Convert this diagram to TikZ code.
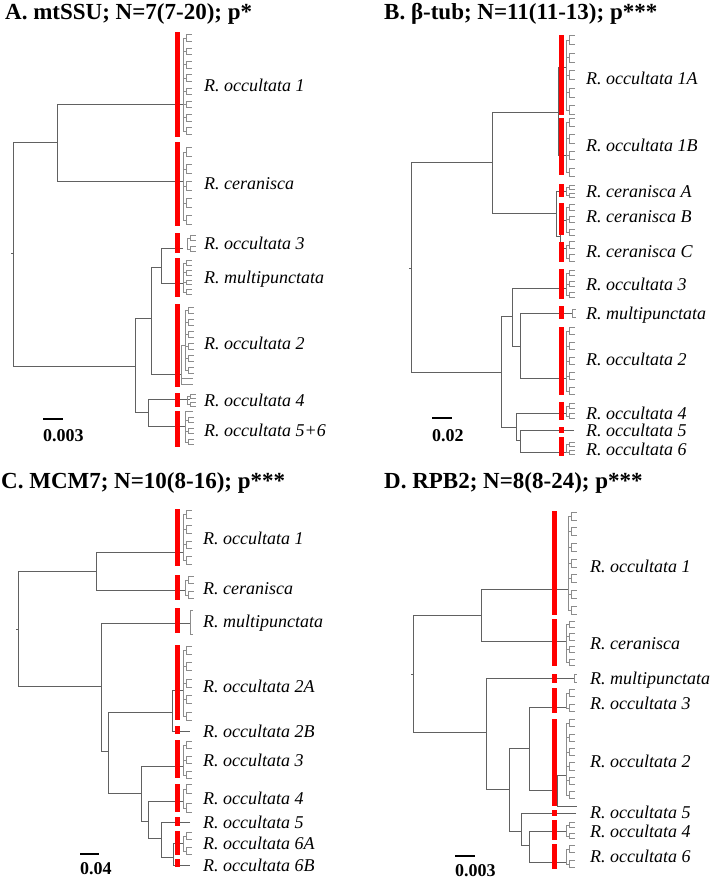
\documentclass[tikz,border=0pt]{standalone}
\usepackage{fontspec}
\setmainfont{Liberation Serif}
\tikzset{
  tree/.style={draw=black!62, line width=0.9pt},
  tip/.style={draw=black!45, line width=0.55pt},
  redbar/.style={fill=red, draw=none},
  lab/.style={anchor=base west, inner sep=0pt, font=\fontsize{18}{20}\selectfont\itshape},
  ttl/.style={anchor=base west, inner sep=0pt, font=\fontsize{23}{26}\selectfont\bfseries},
  scl/.style={anchor=base west, inner sep=0pt, font=\fontsize{18}{20}\selectfont\bfseries},
  sbar/.style={draw=black, line width=2pt}
}
\newcommand\comb[4]{%
  \draw[tip] (#1,#2) -- (#1,#3);
  \pgfmathsetmacro\cd{(#3-#2)/max(#4-1,1)}%
  \pgfmathsetmacro\cs{\cd/4}%
  \foreach \k in {1,...,#4}{%
    \pgfmathsetmacro\cy{#2+(\k-1)*\cd}%
    \draw[tip] (#1,\cy) -- (#1+3,\cy) (#1+3,\cy-\cs) -- (#1+3,\cy+\cs)
      (#1+3,\cy-\cs) -- (#1+9,\cy-\cs) (#1+3,\cy+\cs) -- (#1+9,\cy+\cs);
  }%
}
\begin{document}
\begin{tikzpicture}[x=1pt,y=-1pt]
\useasboundingbox[fill=white] (0,0) rectangle (709,880);

%================ Panel A =================
\node[ttl] (tA) at (5,20) {A. mtSSU; N=7(7-20); p*};
\draw[tree] (11,253) -- (13,253);
\draw[tree] (57,142) -- (13,142) -- (13,366) -- (135,366);
\draw[tree] (183,104) -- (57,104) -- (57,181) -- (183,181);
\draw[tree] (151,318) -- (135,318) -- (135,412) -- (148,412);
\draw[tree] (161,267) -- (151,267) -- (151,374) -- (181,374);
\draw[tree] (183,248) -- (161,248) -- (161,283) -- (183,283);
\draw[tree] (190,399) -- (148,399) -- (148,426) -- (185,426);
\comb{183}{38}{131}{8}
\comb{183}{152}{220}{5}
\comb{187}{238}{249}{2}
\comb{183}{263}{292}{4}
\draw[tip] (181,345) -- (181,384) (181,378) -- (193,378) (181,384) -- (193,384);
\draw[tip] (181,345) -- (185,345);
\comb{185}{310}{370}{6}
\comb{187}{396}{404}{2}
\draw[tip] (185,411) -- (185,442) (185,411) -- (193,411);
\comb{185}{420}{442}{3}
\fill[redbar] (175,32) rectangle (180,137);
\fill[redbar] (175,142) rectangle (180,226);
\fill[redbar] (175,233) rectangle (180,253);
\fill[redbar] (175,258) rectangle (180,297);
\fill[redbar] (175,304) rectangle (180,387);
\fill[redbar] (175,393) rectangle (180,407);
\fill[redbar] (175,411) rectangle (180,447);
\node[lab] (a1) at (204,92) {R. occultata 1};
\node[lab] (a2) at (204,189) {R. ceranisca};
\node[lab] (a3) at (204,249) {R. occultata 3};
\node[lab] (a4) at (204,283) {R. multipunctata};
\node[lab] (a5) at (204,349) {R. occultata 2};
\node[lab] (a6) at (204,406) {R. occultata 4};
\node[lab] (a7) at (204,436) {R. occultata 5+6};
\draw[sbar] (43,419) -- (63,419);
\node[scl] (sA) at (43,441) {0.003};

%================ Panel B =================
\node[ttl] (tB) at (384,20) {B. β-tub; N=11(11-13); p***};
\draw[tree] (409,268) -- (411,268);
\draw[tree] (492,162) -- (411,162) -- (411,372) -- (501,372);
\draw[tree] (558,112) -- (492,112) -- (492,213) -- (556,213);
\draw[tree] (566,67) -- (558,67) -- (558,155) -- (566,155);
\draw[tree] (566,191) -- (556,191) -- (556,236) -- (560,236);
\draw[tree] (566,220) -- (560,220) -- (560,248) -- (566,248);
\draw[tree] (512,316) -- (501,316) -- (501,427) -- (516,427);
\draw[tree] (566,288) -- (512,288) -- (512,346) -- (520,346);
\draw[tree] (572,313) -- (520,313) -- (520,378) -- (566,378);
\draw[tree] (566,413) -- (516,413) -- (516,440) -- (520,440);
\draw[tree] (574,430) -- (520,430) -- (520,452) -- (566,452);
\comb{566}{40}{110}{5}
\comb{566}{122}{172}{4}
\comb{566}{187}{195}{2}
\comb{566}{207}{232}{3}
\comb{566}{245}{258}{2}
\comb{566}{273}{295}{3}
\draw[tip] (572,309) -- (572,317) (572,309) -- (576,309) (572,317) -- (576,317);
\comb{566}{331}{391}{5}
\comb{566}{406}{416}{2}
\comb{566}{444}{452}{2}
\fill[redbar] (559,35) rectangle (564,115);
\fill[redbar] (559,118) rectangle (564,175);
\fill[redbar] (559,184) rectangle (564,197);
\fill[redbar] (559,203) rectangle (564,235);
\fill[redbar] (559,242) rectangle (564,262);
\fill[redbar] (559,269) rectangle (564,299);
\fill[redbar] (559,306) rectangle (564,319);
\fill[redbar] (559,327) rectangle (564,395);
\fill[redbar] (559,402) rectangle (564,420);
\fill[redbar] (559,427) rectangle (564,433);
\fill[redbar] (559,437) rectangle (564,456);
\node[lab] (b1) at (586,85) {R. occultata 1A};
\node[lab] (b2) at (586,151) {R. occultata 1B};
\node[lab] (b3) at (586,197) {R. ceranisca A};
\node[lab] (b4) at (586,222) {R. ceranisca B};
\node[lab] (b5) at (586,257) {R. ceranisca C};
\node[lab] (b6) at (586,290) {R. occultata 3};
\node[lab] (b7) at (586,319) {R. multipunctata};
\node[lab] (b8) at (586,365) {R. occultata 2};
\node[lab] (b9) at (586,419) {R. occultata 4};
\node[lab] (b10) at (586,436) {R. occultata 5};
\node[lab] (b11) at (586,455) {R. occultata 6};
\draw[sbar] (432,418) -- (452,418);
\node[scl] (sB) at (432,441) {0.02};

%================ Panel C =================
\node[ttl] (tC) at (1,488) {C. MCM7; N=10(8-16); p***};
\draw[tree] (16,629) -- (18,629);
\draw[tree] (96,571) -- (18,571) -- (18,686) -- (101,686);
\draw[tree] (183,552) -- (96,552) -- (96,590) -- (185,590);
\draw[tree] (190,623) -- (101,623) -- (101,751) -- (108,751);
\draw[tree] (172,712) -- (108,712) -- (108,793) -- (141,793);
\draw[tree] (183,690) -- (172,690) -- (172,731) -- (190,731);
\draw[tree] (183,766) -- (141,766) -- (141,821) -- (148,821);
\draw[tree] (183,801) -- (148,801) -- (148,838) -- (161,838);
\draw[tree] (190,822) -- (161,822) -- (161,857) -- (173,857);
\draw[tree] (183,843) -- (173,843) -- (173,865) -- (190,865);
\comb{183}{514}{560}{4}
\comb{185}{580}{595}{2}
\draw[tip] (190,610) -- (190,634) (190,610) -- (193,610) (190,634) -- (193,634);
\comb{183}{650}{716}{5}
\comb{183}{745}{775}{3}
\comb{183}{789}{808}{2}
\comb{183}{836}{851}{2}
\fill[redbar] (175,509) rectangle (180,566);
\fill[redbar] (175,575) rectangle (180,600);
\fill[redbar] (175,608) rectangle (180,633);
\fill[redbar] (175,645) rectangle (180,720);
\fill[redbar] (175,726) rectangle (180,734);
\fill[redbar] (175,740) rectangle (180,778);
\fill[redbar] (175,784) rectangle (180,812);
\fill[redbar] (175,817) rectangle (180,826);
\fill[redbar] (175,831) rectangle (180,855);
\fill[redbar] (175,859) rectangle (180,867);
\node[lab] (c1) at (203,544) {R. occultata 1};
\node[lab] (c2) at (203,594) {R. ceranisca};
\node[lab] (c3) at (203,627) {R. multipunctata};
\node[lab] (c4) at (203,692) {R. occultata 2A};
\node[lab] (c5) at (203,737) {R. occultata 2B};
\node[lab] (c6) at (203,766) {R. occultata 3};
\node[lab] (c7) at (203,804) {R. occultata 4};
\node[lab] (c8) at (203,828) {R. occultata 5};
\node[lab] (c9) at (203,849) {R. occultata 6A};
\node[lab] (c10) at (203,871) {R. occultata 6B};
\draw[sbar] (80,854) -- (99,854);
\node[scl] (sC) at (80,874) {0.04};

%================ Panel D =================
\node[ttl] (tD) at (384,488) {D. RPB2; N=8(8-24); p***};
\draw[tree] (411,674) -- (413,674);
\draw[tree] (481,615) -- (413,615) -- (413,732) -- (486,732);
\draw[tree] (568,589) -- (481,589) -- (481,641) -- (566,641);
\draw[tree] (574,678) -- (486,678) -- (486,789) -- (509,789);
\draw[tree] (529,748) -- (509,748) -- (509,831) -- (521,831);
\draw[tree] (566,707) -- (529,707) -- (529,790) -- (557,790);
\draw[tree] (566,775) -- (557,775) -- (557,806) -- (577,806);
\draw[tree] (576,813) -- (521,813) -- (521,845) -- (529,845);
\draw[tree] (566,831) -- (529,831) -- (529,862) -- (566,862);
\comb{568}{516}{610}{7}
\comb{566}{624}{662}{4}
\draw[tip] (574,674) -- (574,682) (574,674) -- (577,674) (574,682) -- (577,682);
\comb{566}{693}{708}{2}
\comb{566}{723}{795}{6}
\comb{566}{825}{836}{2}
\comb{566}{849}{864}{2}
\fill[redbar] (552,511) rectangle (557,615);
\fill[redbar] (552,619) rectangle (557,666);
\fill[redbar] (552,674) rectangle (557,683);
\fill[redbar] (552,688) rectangle (557,713);
\fill[redbar] (552,719) rectangle (557,806);
\fill[redbar] (552,810) rectangle (557,816);
\fill[redbar] (552,820) rectangle (557,840);
\fill[redbar] (552,844) rectangle (557,869);
\node[lab] (d1) at (590,572) {R. occultata 1};
\node[lab] (d2) at (590,649) {R. ceranisca};
\node[lab] (d3) at (590,684) {R. multipunctata};
\node[lab] (d4) at (590,709) {R. occultata 3};
\node[lab] (d5) at (590,767) {R. occultata 2};
\node[lab] (d6) at (590,818) {R. occultata 5};
\node[lab] (d7) at (590,837) {R. occultata 4};
\node[lab] (d8) at (590,862) {R. occultata 6};
\draw[sbar] (455,856) -- (475,856);
\node[scl] (sD) at (455,876) {0.003};
\end{tikzpicture}
\end{document}
